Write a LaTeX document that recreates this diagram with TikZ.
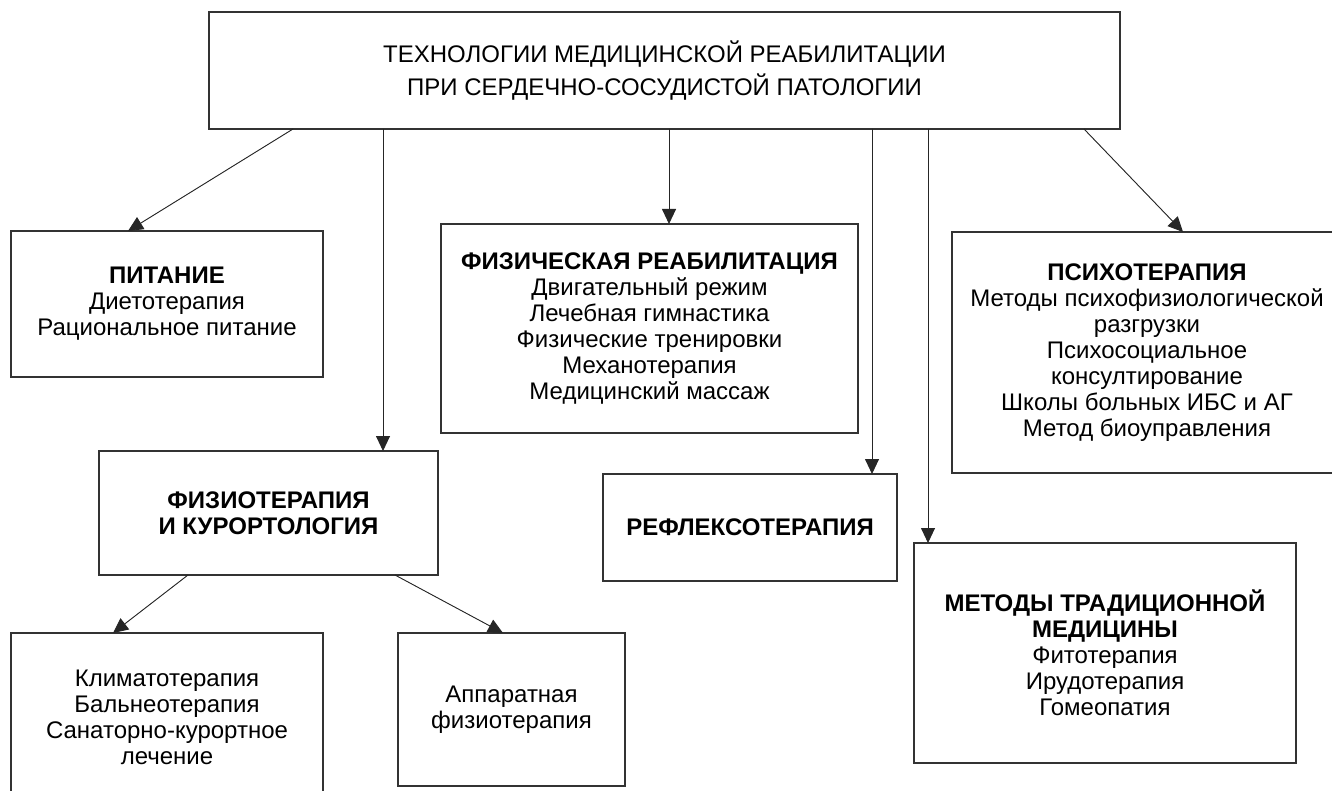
\documentclass[tikz,border=0pt]{standalone}
\usepackage{fontspec}
\setmainfont{Liberation Sans}
\usetikzlibrary{arrows.meta,positioning}

\tikzset{
    box/.style={draw=black!80, line width=1.2pt, align=center, inner sep=0pt, outer sep=0pt,
        font=\fontsize{24}{26}\selectfont},
    arr/.style={-{Triangle[length=15pt,width=14pt]}, line width=0.9pt, draw=black!85, fill=black!85}
}

\begin{document}
\begin{tikzpicture}[x=1pt, y=-1pt]
    \fill[white, use as bounding box] (0,0) rectangle (1332,791);

    \node[box, minimum width=911, minimum height=117, font=\fontsize{24}{29}\selectfont] (top) at (664.5,70.5)
        {\raisebox{-5pt}{\shortstack{ТЕХНОЛОГИИ МЕДИЦИНСКОЙ РЕАБИЛИТАЦИИ\\[4pt]ПРИ СЕРДЕЧНО-СОСУДИСТОЙ ПАТОЛОГИИ}}};

    \node[box, minimum width=312, minimum height=146] (pit) at (167,304)
        {\textbf{ПИТАНИЕ}\\Диетотерапия\\Рациональное питание};
    \node[box, minimum width=417, minimum height=209] (fizreab) at (649.5,328.5)
        {\textbf{ФИЗИЧЕСКАЯ РЕАБИЛИТАЦИЯ}\\Двигательный режим\\Лечебная гимнастика\\Физические тренировки\\Механотерапия\\Медицинский массаж};
    \node[box, minimum width=390, minimum height=241] (psy) at (1147,352.5)
        {\textbf{ПСИХОТЕРАПИЯ}\\Методы психофизиологической\\разгрузки\\Психосоциальное\\консултирование\\Школы больных ИБС и АГ\\Метод биоуправления};
    \node[box, minimum width=339, minimum height=124] (physio) at (268.5,513)
        {\textbf{ФИЗИОТЕРАПИЯ}\\\textbf{И КУРОРТОЛОГИЯ}};
    \node[box, minimum width=294, minimum height=107] (reflex) at (750,527.5)
        {\textbf{РЕФЛЕКСОТЕРАПИЯ}};
    \node[box, minimum width=382, minimum height=220] (trad) at (1105,653)
        {\textbf{МЕТОДЫ ТРАДИЦИОННОЙ}\\\textbf{МЕДИЦИНЫ}\\Фитотерапия\\Ирудотерапия\\Гомеопатия};
    \node[box, minimum width=312, minimum height=168] (clim) at (167,717)
        {Климатотерапия\\Бальнеотерапия\\Санаторно-курортное\\лечение};
    \node[box, minimum width=227, minimum height=153] (appa) at (511.5,709.5)
        {Аппаратная\\физиотерапия};

    % entry points of the vertical arrows
    \coordinate (physio-in) at ([xshift=284]physio.north west);
    \coordinate (fizreab-in) at ([xshift=228]fizreab.north west);
    \coordinate (reflex-in) at ([xshift=269]reflex.north west);
    \coordinate (trad-in) at ([xshift=14]trad.north west);

    \draw[arr] ([xshift=84]top.south west) -- ([xshift=117]pit.north west);
    \draw[arr] (top.south -| physio-in) -- (physio-in);
    \draw[arr] (top.south -| fizreab-in) -- (fizreab-in);
    \draw[arr] (top.south -| reflex-in) -- (reflex-in);
    \draw[arr] (top.south -| trad-in) -- (trad-in);
    \draw[arr] ([xshift=-36]top.south east) -- ([xshift=231]psy.north west);

    \draw[arr] ([xshift=89]physio.south west) -- ([xshift=102]clim.north west);
    \draw[arr] ([xshift=-43]physio.south east) -- ([xshift=105]appa.north west);
\end{tikzpicture}
\end{document}
